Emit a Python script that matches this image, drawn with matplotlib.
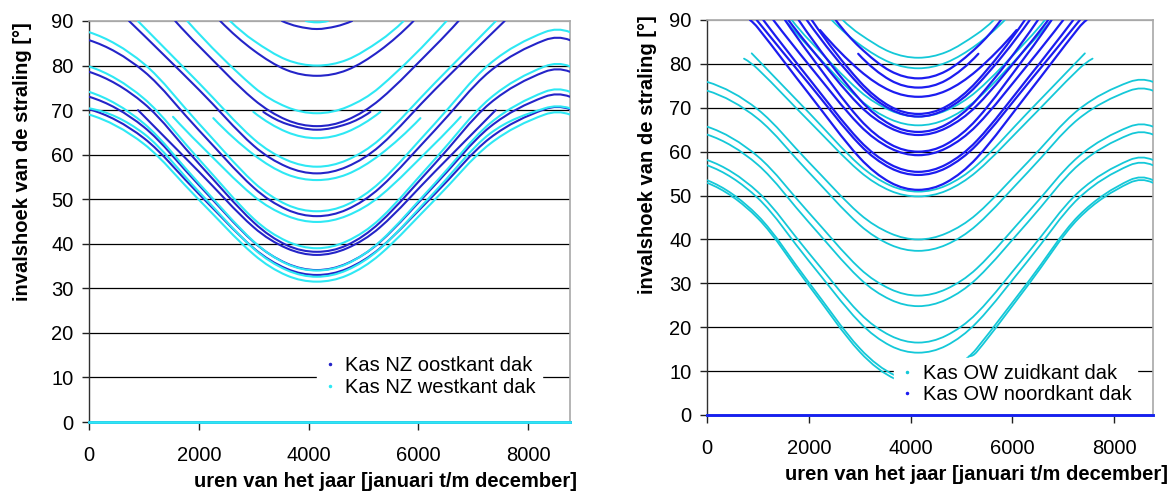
import numpy as np
import matplotlib
matplotlib.use("Agg")
import matplotlib.pyplot as plt
from matplotlib.path import Path
from matplotlib.patches import PathPatch
from matplotlib.lines import Line2D

plt.rcParams['font.family'] = ['Liberation Sans', 'DejaVu Sans']

# ---------------- data (hour of year -> incidence angle, per hour-of-day curve) -------------
H12 = [0, 1000, 2000, 3000, 3600, 4150, 4700, 5300, 6300, 7300, 8300, 8760]
zero_hours = [0, 8760]
zero_angles = [0, 0]

# Kas NZ oostkant dak (left, blue)
nz_oost = [
    (H12, [85.7, 78.7, 65.5, 52.6, 47.7, 46.2, 47.7, 52.6, 65.5, 78.7, 85.7, 85.7]),
    (H12, [78.6, 71.5, 58.0, 44.8, 39.7, 38.2, 39.7, 44.8, 58.0, 71.5, 78.6, 78.6]),
    (H12, [73.0, 66.2, 53.2, 40.4, 35.6, 34.1, 35.6, 40.4, 53.2, 66.2, 73.0, 73.0]),
    (H12, [70.2, 63.7, 51.2, 39.0, 34.4, 33.0, 34.4, 39.0, 51.2, 63.7, 70.2, 70.2]),
    ([893, 2000, 3000, 3600, 4150, 4700, 5300, 6300, 7407],
     [70.0, 56.2, 43.7, 39.0, 37.5, 39.0, 43.7, 56.2, 70.0]),
    ([3175, 3600, 4150, 4700, 5125], [69.6, 66.9, 65.6, 66.9, 69.6]),
    ([730, 2000, 3000, 3600, 4150, 4700, 5300, 6300, 7570],
     [90, 74.6, 62.0, 57.3, 55.8, 57.3, 62.0, 74.6, 90]),
    ([1570, 2000, 3000, 3600, 4150, 4700, 5300, 6300, 6730],
     [90, 84.4, 72.4, 67.8, 66.4, 67.8, 72.4, 84.4, 90]),
    ([2390, 3000, 3600, 4150, 4700, 5300, 5910], [90, 83.4, 79.0, 77.7, 79.0, 83.4, 90]),
    ([3515, 3800, 4150, 4500, 4790], [90, 88.8, 88.2, 88.8, 90]),
]

# Kas NZ westkant dak (left, cyan)
nz_west = [
    (H12, [87.5, 80.4, 67.0, 53.8, 48.8, 47.3, 48.8, 53.8, 67.0, 80.4, 87.5, 87.5]),
    (H12, [79.8, 72.6, 59.0, 45.6, 40.6, 39.0, 40.6, 45.6, 59.0, 72.6, 79.8, 79.8]),
    (H12, [74.1, 67.0, 53.6, 40.5, 35.5, 34.0, 35.5, 40.5, 53.6, 67.0, 74.1, 74.1]),
    (H12, [70.4, 64.7, 51.7, 38.9, 34.1, 32.6, 34.1, 38.9, 51.7, 64.7, 70.4, 70.4]),
    (H12, [69.0, 62.4, 49.9, 37.6, 32.9, 31.5, 32.9, 37.6, 49.9, 62.4, 69.0, 69.0]),
    ([1530, 2000, 3000, 3600, 4150, 4700, 5300, 6300, 6770],
     [68.5, 62.5, 50.7, 46.3, 44.9, 46.3, 50.7, 62.5, 68.5]),
    ([2264, 3000, 3600, 4150, 4700, 5300, 6036], [68.2, 60.0, 55.6, 54.3, 55.6, 60.0, 68.2]),
    ([2993, 3600, 4150, 4700, 5307], [69.6, 65.1, 63.7, 65.1, 69.6]),
    ([890, 2000, 3000, 3600, 4150, 4700, 5300, 6300, 7410],
     [90, 76.1, 63.5, 58.8, 57.3, 58.8, 63.5, 76.1, 90]),
    ([1790, 3000, 3600, 4150, 4700, 5300, 6510], [90, 75.2, 70.7, 69.3, 70.7, 75.2, 90]),
    ([2570, 3000, 3600, 4150, 4700, 5300, 5730], [90, 85.6, 81.3, 80.0, 81.3, 85.6, 90]),
    ([3950, 4150, 4350], [90, 89.7, 90]),
]

# Kas OW zuidkant dak (right, cyan)
ow_zuid = [
    (H12, [75.9, 69.6, 57.6, 45.8, 41.4, 40.0, 41.4, 45.8, 57.6, 69.6, 75.9, 75.9]),
    (H12, [73.9, 67.5, 55.3, 43.3, 38.8, 37.4, 38.8, 43.3, 55.3, 67.5, 73.9, 73.9]),
    (H12, [65.7, 58.9, 46.1, 33.4, 28.7, 27.2, 28.7, 33.4, 46.1, 58.9, 65.7, 65.7]),
    (H12, [63.9, 57.0, 43.9, 31.1, 26.3, 24.8, 26.3, 31.1, 43.9, 57.0, 63.9, 63.9]),
    (H12, [58.1, 50.8, 36.9, 23.2, 18.1, 16.5, 18.1, 23.2, 36.9, 50.8, 58.1, 58.1]),
    (H12, [56.9, 49.4, 35.1, 21.1, 15.8, 14.2, 15.8, 21.1, 35.1, 49.4, 56.9, 56.9]),
    ([0, 1000, 2000, 3000, 3700, 4400, 5100, 5300, 6300, 7300, 8300, 8760],
     [53.5, 45.4, 30.2, 15.2, 9.0, np.nan, 12.9, 15.2, 30.2, 45.4, 53.5, 53.5]),
    ([0, 1000, 2000, 3000, 3700, 4400, 5150, 5300, 6300, 7300, 8300, 8760],
     [52.9, 44.8, 29.5, 14.4, 8.2, np.nan, 13.4, 14.4, 29.5, 44.8, 52.9, 52.9]),
    ([727, 1000, 2000, 3000, 3600, 4150, 4700, 5300, 6300, 7300, 7573],
     [81.2, 78.8, 67.0, 55.5, 51.1, 49.8, 51.1, 55.5, 67.0, 78.8, 81.2]),
    ([878, 2000, 3000, 3600, 4150, 4700, 5300, 6300, 7422],
     [82.4, 68.9, 56.9, 52.3, 50.9, 52.3, 56.9, 68.9, 82.4]),
    ([2666, 3000, 3600, 4150, 4700, 5300, 5634], [90, 86.8, 82.7, 81.4, 82.7, 86.8, 90]),
    ([2450, 3000, 3600, 4150, 4700, 5300, 5850], [90, 84.4, 80.3, 79.0, 80.3, 84.4, 90]),
    ([1532, 2000, 3000, 3600, 4150, 4700, 5300, 6300, 6768],
     [90, 83.9, 71.9, 67.4, 66.0, 67.4, 71.9, 83.9, 90]),
    ([1664, 2000, 3000, 3600, 4150, 4700, 5300, 6300, 6636],
     [90, 85.5, 73.8, 69.4, 68.0, 69.4, 73.8, 85.5, 90]),
]

# Kas OW noordkant dak (right, blue)
ow_noord = [
    ([845, 1000, 2000, 3000, 3600, 4150, 4700, 5300, 6300, 7300, 7455],
     [90, 88.2, 73.2, 58.6, 53.0, 51.3, 53.0, 58.6, 73.2, 88.2, 90]),
    ([976, 2000, 3000, 3600, 4150, 4700, 5300, 6300, 7324],
     [90, 75.5, 61.6, 56.3, 54.7, 56.3, 61.6, 75.5, 90]),
    ([1106, 2000, 3000, 3600, 4150, 4700, 5300, 6300, 7194],
     [90, 76.7, 62.5, 57.1, 55.4, 57.1, 62.5, 76.7, 90]),
    ([1303, 2000, 3000, 3600, 4150, 4700, 5300, 6300, 6997],
     [90, 79.8, 66.0, 60.8, 59.2, 60.8, 66.0, 79.8, 90]),
    ([1532, 2000, 3000, 3600, 4150, 4700, 5300, 6300, 6768],
     [90, 82.4, 67.4, 61.7, 60.0, 61.7, 67.4, 82.4, 90]),
    ([1598, 2000, 3000, 3600, 4150, 4700, 5300, 6300, 6702],
     [90, 84.1, 70.5, 65.4, 63.8, 65.4, 70.5, 84.1, 90]),
    ([1800, 3000, 3600, 4150, 4700, 5300, 6500], [90, 71.9, 66.2, 64.5, 66.2, 71.9, 90]),
    ([1960, 3000, 3600, 4150, 4700, 5300, 6340], [90, 75.1, 69.7, 68.0, 69.7, 75.1, 90]),
    ([2057, 3000, 3600, 4150, 4700, 5300, 6243], [90, 76.0, 70.3, 68.6, 70.3, 76.0, 90]),
    ([2220, 3000, 3600, 4150, 4700, 5300, 6080], [87.7, 78.5, 73.9, 72.5, 73.9, 78.5, 87.7]),
    ([2970, 3600, 4150, 4700, 5330], [82.3, 76.3, 74.6, 76.3, 82.3]),
    ([2527, 3000, 3600, 4150, 4700, 5300, 5773], [90, 83.8, 78.4, 76.7, 78.4, 83.8, 90]),
]

x_ticks = [0, 2000, 4000, 6000, 8000]
y_ticks = [0, 10, 20, 30, 40, 50, 60, 70, 80, 90]
labels_left = ["Kas NZ oostkant dak", "Kas NZ westkant dak"]
labels_right = ["Kas OW zuidkant dak", "Kas OW noordkant dak"]
x_label = "uren van het jaar [januari t/m december]"
y_label = "invalshoek van de straling [°]"

C_NZ_OOST = "#2424c8"
C_NZ_WEST = "#2ee8f4"
C_OW_ZUID = "#14c8d8"
C_OW_NOORD = "#1c1cf0"
FS = 14.5


def smooth_curve(ax, xs, ys, color, lw=1.5, z=3):
    """Draw a smooth (Excel-like) line through the given points as a Bezier path."""
    xs = np.asarray(xs, float)
    ys = np.asarray(ys, float)
    ok = ~np.isnan(ys)
    segs, cur = [], []
    for i in range(len(xs)):
        if ok[i]:
            cur.append(i)
        else:
            if cur:
                segs.append(cur)
            cur = []
    if cur:
        segs.append(cur)
    for seg in segs:
        x = xs[seg]
        y = ys[seg]
        n = len(x)
        if n < 2:
            continue
        m = np.zeros(n)
        for i in range(1, n - 1):
            m[i] = (y[i + 1] - y[i - 1]) / (x[i + 1] - x[i - 1])
        s0 = (y[1] - y[0]) / (x[1] - x[0])
        s1 = (y[-1] - y[-2]) / (x[-1] - x[-2])
        if n > 2:
            m[0] = 2 * s0 - m[1]
            m[-1] = 2 * s1 - m[-2]
        else:
            m[0] = s0
            m[-1] = s1
        verts = [(x[0], y[0])]
        codes = [Path.MOVETO]
        for i in range(n - 1):
            h = x[i + 1] - x[i]
            verts += [(x[i] + h / 3, y[i] + m[i] * h / 3),
                      (x[i + 1] - h / 3, y[i + 1] - m[i + 1] * h / 3),
                      (x[i + 1], y[i + 1])]
            codes += [Path.CURVE4] * 3
        patch = PathPatch(Path(verts, codes), facecolor='none', edgecolor=color,
                          lw=lw, zorder=z, capstyle='round')
        ax.add_patch(patch)


def style(ax):
    ax.set_xlim(0, 8760)
    ax.set_ylim(0, 90)
    ax.set_xticks(x_ticks)
    ax.set_yticks(y_ticks)
    ax.yaxis.grid(True, color='black', lw=0.9)
    ax.set_axisbelow(True)
    for sp in ('top', 'right'):
        ax.spines[sp].set_color('#a8a8a8')
        ax.spines[sp].set_linewidth(1.2)
    for sp in ('left', 'bottom'):
        ax.spines[sp].set_color('#303030')
        ax.spines[sp].set_linewidth(1.0)
    ax.tick_params(axis='y', direction='out', length=5, width=1, labelsize=FS, pad=6,
                   colors='#202020')
    ax.tick_params(axis='x', direction='out', length=6, width=1, labelsize=FS, pad=11,
                   colors='#202020')
    ax.tick_params(labelcolor='black')
    ax.yaxis.get_gridlines()[-1].set_color('#a8a8a8')
    ax.set_xlabel(x_label, fontsize=FS, fontweight='bold')
    ax.set_ylabel(y_label, fontsize=FS, fontweight='bold')


fig = plt.figure(figsize=(11.71, 4.92), dpi=100)
axL = fig.add_axes([89 / 1171, 70 / 492, 481 / 1171, 401 / 492])
axR = fig.add_axes([707 / 1171, 77 / 492, 446 / 1171, 395 / 492])

# left panel
for hx, ay in nz_oost:
    smooth_curve(axL, hx, ay, C_NZ_OOST)
axL.plot(zero_hours, zero_angles, color=C_NZ_OOST, lw=2, clip_on=False, zorder=3)
for hx, ay in nz_west:
    smooth_curve(axL, hx, ay, C_NZ_WEST)
axL.plot(zero_hours, zero_angles, color=C_NZ_WEST, lw=2, clip_on=False, zorder=3)
style(axL)
axL.xaxis.set_label_coords(0.616, -0.125)
axL.yaxis.set_label_coords(-0.1185, 0.65)

hL = [Line2D([], [], ls='none', marker='.', ms=3, color=C_NZ_OOST),
      Line2D([], [], ls='none', marker='.', ms=3, color=C_NZ_WEST)]
legL = axL.legend(hL, labels_left, loc='upper left', bbox_to_anchor=(0.474, 0.18),
                  borderaxespad=0, frameon=True, fancybox=False, framealpha=1,
                  edgecolor='white', facecolor='white', fontsize=FS, handlelength=0.7,
                  handletextpad=0.4, labelspacing=0.17, borderpad=0.3)

# right panel
for hx, ay in ow_zuid:
    smooth_curve(axR, hx, ay, C_OW_ZUID, lw=1.3)
axR.plot(zero_hours, zero_angles, color=C_OW_ZUID, lw=2, clip_on=False, zorder=3)
for hx, ay in ow_noord:
    smooth_curve(axR, hx, ay, C_OW_NOORD, lw=1.6)
axR.plot(zero_hours, zero_angles, color=C_OW_NOORD, lw=2, clip_on=False, zorder=3)
style(axR)
axR.xaxis.set_label_coords(0.605, -0.127)
axR.yaxis.set_label_coords(-0.112, 0.66)

hR = [Line2D([], [], ls='none', marker='.', ms=3, color=C_OW_ZUID),
      Line2D([], [], ls='none', marker='.', ms=3, color=C_OW_NOORD)]
legR = axR.legend(hR, labels_right, loc='upper left', bbox_to_anchor=(0.42, 0.144),
                  borderaxespad=0, frameon=True, fancybox=False, framealpha=1,
                  edgecolor='white', facecolor='white', fontsize=FS, handlelength=0.7,
                  handletextpad=0.4, labelspacing=0.07, borderpad=0.3)

fig.savefig("out.png", dpi=100)
